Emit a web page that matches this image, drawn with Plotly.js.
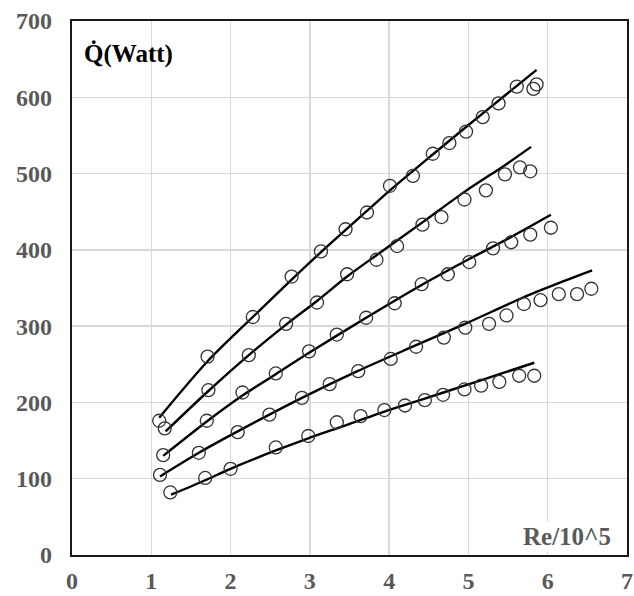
<!DOCTYPE html>
<html>
<head>
<meta charset="utf-8">
<script src="https://cdn.plot.ly/plotly-3.0.1.min.js"></script>
<style>html,body{margin:0;padding:0;background:#fff;}#chart{width:634px;height:596px;}</style>
</head>
<body>
<div id="chart"></div>
<script>
// Measured points (Re/10^5, Q in Watt)
const pointsX1 = [1.10, 1.71, 2.28, 2.77, 3.14, 3.45, 3.72, 4.01, 4.30, 4.55, 4.76, 4.97, 5.18, 5.38, 5.61, 5.82, 5.86];
const pointsY1 = [176, 260, 312, 365, 398, 427, 449, 484, 497, 526, 540, 555, 574, 592, 614, 611, 617];
const pointsX2 = [1.17, 1.72, 2.23, 2.70, 3.09, 3.47, 3.84, 4.10, 4.42, 4.66, 4.95, 5.22, 5.46, 5.65, 5.78];
const pointsY2 = [166, 216, 262, 303, 331, 368, 387, 405, 433, 443, 466, 478, 499, 508, 503];
const pointsX3 = [1.15, 1.70, 2.15, 2.57, 2.99, 3.34, 3.71, 4.07, 4.41, 4.74, 5.01, 5.31, 5.54, 5.78, 6.04];
const pointsY3 = [131, 176, 213, 238, 267, 289, 311, 330, 355, 368, 384, 402, 410, 420, 429];
const pointsX4 = [1.11, 1.60, 2.09, 2.49, 2.90, 3.25, 3.61, 4.02, 4.34, 4.69, 4.96, 5.26, 5.48, 5.70, 5.91, 6.14, 6.37, 6.55];
const pointsY4 = [105, 134, 161, 184, 206, 224, 241, 257, 273, 285, 298, 303, 314, 329, 334, 342, 342, 349];
const pointsX5 = [1.24, 1.68, 2.00, 2.57, 2.98, 3.34, 3.64, 3.94, 4.20, 4.45, 4.68, 4.95, 5.16, 5.39, 5.64, 5.83];
const pointsY5 = [82, 101, 113, 141, 156, 174, 182, 190, 196, 203, 210, 217, 222, 227, 235, 235];

// Trend lines
const fitX1 = [1.10, 1.71, 2.28, 2.77, 3.14, 3.72, 4.01, 4.55, 4.97, 5.61, 5.86];
const fitY1 = [180, 254, 312, 361, 397, 451, 478, 525, 561, 615, 636];
const fitX2 = [1.18, 1.72, 2.23, 2.70, 3.09, 3.47, 3.84, 4.42, 4.95, 5.46, 5.79];
const fitY2 = [162, 215, 262, 302, 333, 365, 393, 436, 476, 511, 535];
const fitX3 = [1.15, 1.70, 2.15, 2.57, 2.99, 3.71, 4.41, 5.01, 5.54, 6.04];
const fitY3 = [130, 175, 209, 237, 265, 311, 354, 388, 417, 446];
const fitX4 = [1.11, 1.60, 2.09, 2.90, 3.60, 4.34, 5.00, 5.70, 6.13, 6.56];
const fitY4 = [103, 134, 162, 206, 241, 275, 305, 338, 356, 373];
const fitX5 = [1.25, 1.68, 2.00, 2.57, 2.98, 3.34, 3.94, 4.45, 4.95, 5.39, 5.83];
const fitY5 = [79, 98, 113, 137, 153, 166, 188, 205, 222, 237, 252];

const xTicks = [0, 1, 2, 3, 4, 5, 6, 7];
const yTicks = [0, 100, 200, 300, 400, 500, 600, 700];
const yLabel = 'Q\u0307(Watt)';
const xLabel = 'Re/10^5';

const pts = [[pointsX1, pointsY1], [pointsX2, pointsY2], [pointsX3, pointsY3], [pointsX4, pointsY4], [pointsX5, pointsY5]];
const fits = [[fitX1, fitY1], [fitX2, fitY2], [fitX3, fitY3], [fitX4, fitY4], [fitX5, fitY5]];

const traces = [];
fits.forEach(function (f) {
  traces.push({x: f[0], y: f[1], mode: 'lines', type: 'scatter', hoverinfo: 'skip',
    line: {color: '#000', width: 2.4, shape: 'spline', smoothing: 0.8}});
});
pts.forEach(function (p) {
  traces.push({x: p[0], y: p[1], mode: 'markers', type: 'scatter',
    marker: {symbol: 'circle-open', size: 13, color: '#333', line: {width: 1.3, color: '#333'}}});
});

const serif = 'Liberation Serif, Times New Roman, serif';
const tickFont = {family: serif, size: 24, color: '#595959', weight: 'bold'};

const layout = {
  width: 634, height: 596,
  margin: {l: 72, r: 7, t: 21, b: 41, pad: 0},
  paper_bgcolor: '#fff', plot_bgcolor: '#fff',
  showlegend: false,
  xaxis: {range: [0, 7], tickvals: xTicks, ticktext: xTicks.map(String), showgrid: true, gridcolor: '#d9d9d9', gridwidth: 1.3,
    zeroline: false, showline: true, linecolor: '#1a1a1a', linewidth: 2.2, mirror: true, ticks: '',
    tickfont: tickFont, ticklabelstandoff: 3, fixedrange: true},
  yaxis: {range: [0, 700], tickvals: yTicks, ticktext: yTicks.map(String), showgrid: true, gridcolor: '#d9d9d9', gridwidth: 1.3,
    zeroline: false, showline: true, linecolor: '#1a1a1a', linewidth: 2.2, mirror: true, ticks: '',
    tickfont: tickFont, ticklabelstandoff: 13, fixedrange: true},
  annotations: [
    {text: yLabel, xref: 'paper', yref: 'paper', x: 0.018, y: 0.938, xanchor: 'left', yanchor: 'middle', showarrow: false,
      font: {family: serif, size: 25, color: '#000', weight: 'bold'}},
    {text: xLabel, xref: 'paper', yref: 'paper', x: 0.891, y: 0.005, xanchor: 'center', yanchor: 'bottom', showarrow: false,
      bgcolor: '#fff', borderpad: 1,
      font: {family: serif, size: 25, color: '#595959', weight: 'bold'}}
  ]
};

Plotly.newPlot('chart', traces, layout, {displayModeBar: false, staticPlot: true});
</script>
</body>
</html>
